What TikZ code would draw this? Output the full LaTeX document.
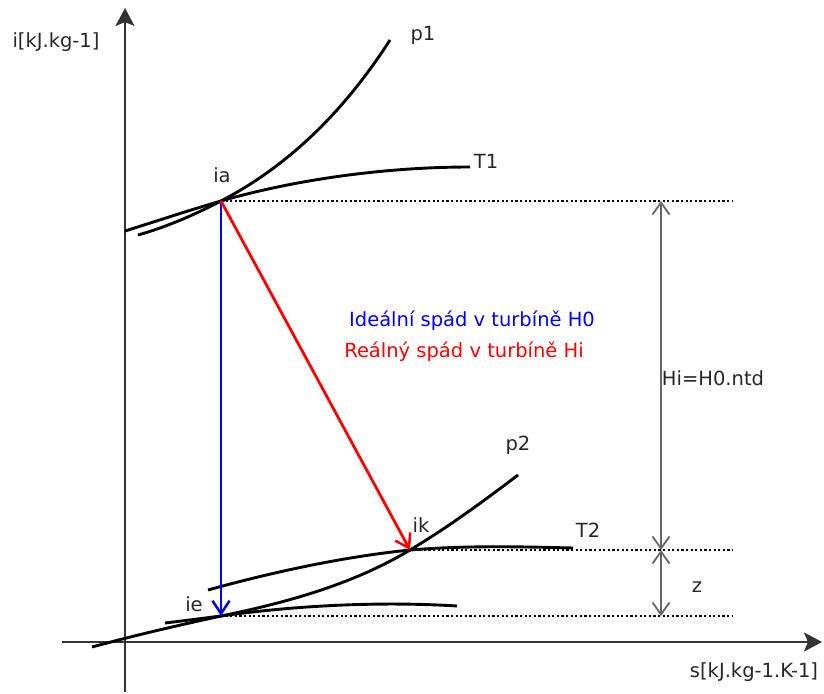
\documentclass[tikz,border=0pt]{standalone}
\usepackage{fontspec}
\setmainfont{DejaVu Sans}
\usetikzlibrary{arrows.meta}
\begin{document}
\begin{tikzpicture}[x=1pt,y=-1pt,
  lbl/.style={inner sep=0pt,font=\fontsize{19.5}{23}\selectfont,text=black!85},
  curve/.style={line width=2.9pt,black},
  axis/.style={line width=2.5pt,black!80,-{Stealth[length=18pt,width=19pt,inset=4pt]}},
  guide/.style={line width=1.4pt,dash pattern=on 2.2pt off 2.4pt,black},
  dim/.style={line width=2.5pt,black!60,{Straight Barb[length=12pt,width=17pt,line width=1.8pt]}-{Straight Barb[length=12pt,width=17pt,line width=1.8pt]}},
  drop/.style={line width=2.8pt,-{Straight Barb[length=13pt,width=17pt,line width=2.5pt]}}]
\useasboundingbox (0,0) rectangle (824,693);
% points
\coordinate (ia) at (221,201);
\coordinate (ik) at (410,550);
\coordinate (ie) at (221,616);
\coordinate (ga) at (733,201);
\coordinate (gk) at (733,550);
\coordinate (ge) at (733,616);
\coordinate (da) at (661,201);
\coordinate (dk) at (661,550);
\coordinate (de) at (661,616);
\coordinate (ybot) at (125,692);
\coordinate (ytop) at (125,8);
\coordinate (xl) at (62,642);
\coordinate (xr) at (822,642);
% axes
\draw[axis] (ybot) -- (ytop);
\draw[axis] (xl) -- (xr);
% curves
\draw[curve] (138,235) .. controls (170,226) and (200,212) .. (ia) .. controls (290,165) and (345,110) .. (390,40);
\draw[curve] (125,231) .. controls (160,220) and (190,210) .. (ia) .. controls (290,181) and (380,167) .. (470,167);
\draw[curve] (92,647) .. controls (140,634) and (180,625) .. (ie) .. controls (300,600) and (360,580) .. (ik) .. controls (450,526) and (485,500) .. (518,475);
\draw[curve] (208,590) .. controls (280,570) and (350,556) .. (ik) .. controls (470,545) and (530,547) .. (573,548);
\draw[curve] (165,623) .. controls (190,620) and (205,618) .. (ie) .. controls (270,609) and (360,600) .. (457,606);
% guides
\draw[guide] (ia) -- (ga);
\draw[guide] (ik) -- (gk);
\draw[guide] (ie) -- (ge);
% drops
\draw[drop,blue] (ia) -- (ie);
\draw[drop,red] (ia) -- (ik);
% dimensions
\draw[dim] (da) -- (dk);
\draw[dim] (dk) -- (de);
% labels
\node[lbl] (ylab) at (56,42) {i[kJ.kg-1]};
\node[lbl] (xlab) at (754,672) {s[kJ.kg-1.K-1]};
\node[lbl] (p1) at (423,35) {p1};
\node[lbl] (T1) at (486,161) {T1};
\node[lbl] (ialab) at (222,175) {ia};
\node[lbl] (iklab) at (421,525) {ik};
\node[lbl] (ielab) at (194,604) {ie};
\node[lbl] (p2) at (518,445) {p2};
\node[lbl] (T2) at (588,530) {T2};
\node[lbl] (Hi) at (713,378) {Hi=H0.ntd};
\node[lbl] (z) at (697,587) {z};
\node[lbl,text=blue] (ideal) at (472,321) {Ideální spád v turbíně H0};
\node[lbl,text=red] (real) at (464,352) {Reálný spád v turbíně Hi};
\end{tikzpicture}
\end{document}
